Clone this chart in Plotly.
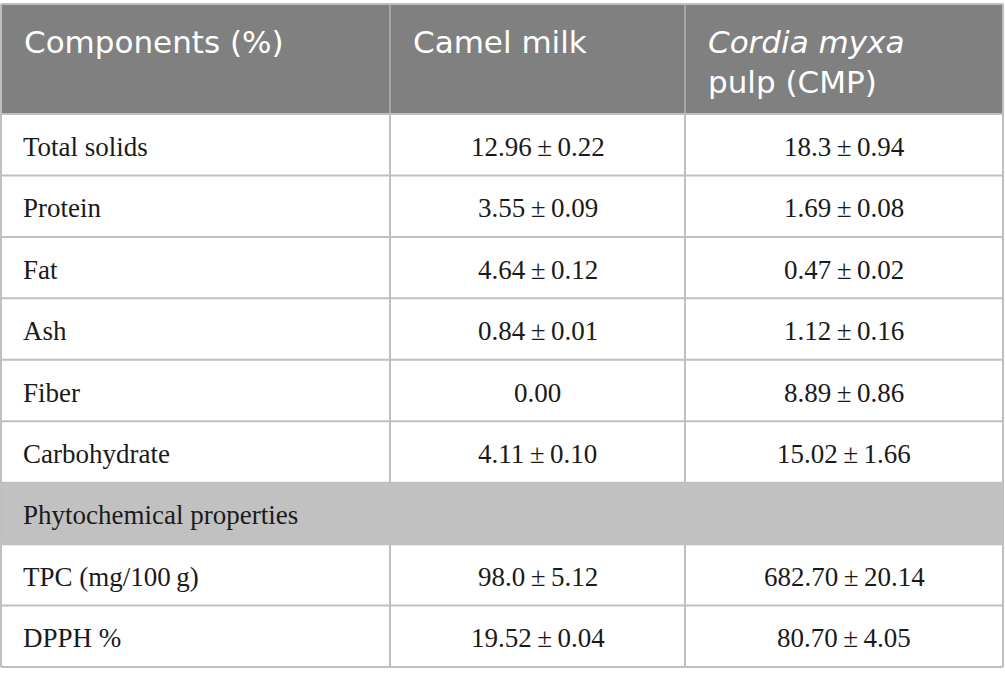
import plotly.graph_objects as go

# table content
header = ["Components (%)", "Camel milk", "<i>Cordia myxa</i><br>pulp (CMP)"]
components = ["Total solids", "Protein", "Fat", "Ash", "Fiber", "Carbohydrate"]
camel_milk = ["12.96\u2009±\u20090.22", "3.55\u2009±\u20090.09", "4.64\u2009±\u20090.12",
              "0.84\u2009±\u20090.01", "0.00", "4.11\u2009±\u20090.10"]
cmp_pulp = ["18.3\u2009±\u20090.94", "1.69\u2009±\u20090.08", "0.47\u2009±\u20090.02",
            "1.12\u2009±\u20090.16", "8.89\u2009±\u20090.86", "15.02\u2009±\u20091.66"]
section_label = "Phytochemical properties"
phyto = ["TPC (mg/100\u2009g)", "DPPH %"]
phyto_camel = ["98.0\u2009±\u20095.12", "19.52\u2009±\u20090.04"]
phyto_cmp = ["682.70\u2009±\u200920.14", "80.70\u2009±\u20094.05"]

# geometry (pixels)
col_edges = [1, 390, 685, 1003]
top, header_h, row_h = 4, 110, 61.45
line_col = "#bfbfbf"
head_fill = "#808080"
section_fill = "#c1c1c1"
body_font = dict(family="Liberation Serif", size=27, color="#1a1a1a")
head_font = dict(family="DejaVu Sans", size=31, color="white")

rows = [(c, a, b) for c, a, b in zip(components, camel_milk, cmp_pulp)]
rows.append(None)  # section row
rows += [(c, a, b) for c, a, b in zip(phyto, phyto_camel, phyto_cmp)]

shapes, annotations = [], []
x0, x1 = col_edges[0], col_edges[-1]
hb = top + header_h

# header
shapes.append(dict(type="rect", x0=x0, x1=x1, y0=top, y1=hb, fillcolor=head_fill,
                   line_width=0, layer="below"))
for i, txt in enumerate(header):
    annotations.append(dict(x=col_edges[i] + 21, y=top + 18, text=txt, showarrow=False,
                            xanchor="left", yanchor="top", align="left", font=head_font))

# body rows
for r, row in enumerate(rows):
    y0 = hb + r * row_h
    y1 = y0 + row_h
    yc = (y0 + y1) / 2
    if row is None:
        shapes.append(dict(type="rect", x0=x0, x1=x1, y0=y0, y1=y1, fillcolor=section_fill,
                           line_width=0, layer="below"))
        annotations.append(dict(x=x0 + 20, y=yc, yshift=-2, text=section_label, showarrow=False,
                                xanchor="left", yanchor="middle", font=body_font))
        continue
    annotations.append(dict(x=x0 + 20, y=yc, yshift=-2, text=row[0], showarrow=False,
                            xanchor="left", yanchor="middle", font=body_font))
    for j in (1, 2):
        annotations.append(dict(x=(col_edges[j] + col_edges[j + 1]) / 2, y=yc, yshift=-2,
                                text=row[j], showarrow=False, xanchor="center",
                                yanchor="middle", font=body_font))
    for xe in col_edges[1:-1]:
        shapes.append(dict(type="line", x0=xe, x1=xe, y0=y0, y1=y1,
                           line=dict(color=line_col, width=2)))

# header dividers
for xe in col_edges[1:-1]:
    shapes.append(dict(type="line", x0=xe, x1=xe, y0=top, y1=hb,
                       line=dict(color="#a6a6a6", width=2)))

# horizontal lines
for r in range(len(rows) + 1):
    y = hb + r * row_h
    shapes.append(dict(type="line", x0=x0, x1=x1, y0=y, y1=y,
                       line=dict(color=line_col, width=2)))
shapes.append(dict(type="line", x0=x0, x1=x1, y0=top, y1=top,
                   line=dict(color=line_col, width=2)))
# outer vertical borders
bottom = hb + len(rows) * row_h
for xe in (x0, x1):
    shapes.append(dict(type="line", x0=xe, x1=xe, y0=top, y1=bottom,
                       line=dict(color=line_col, width=2)))

fig = go.Figure()
fig.update_layout(
    width=1005, height=682,
    margin=dict(l=0, r=0, t=0, b=0),
    paper_bgcolor="white", plot_bgcolor="white",
    xaxis=dict(range=[0, 1005], visible=False, fixedrange=True),
    yaxis=dict(range=[682, 0], visible=False, fixedrange=True),
    shapes=shapes, annotations=annotations,
    showlegend=False,
)
# drop the default 8px page margin so the figure sits at the window origin
fig.write_html("out.html", config={"displayModeBar": False},
               post_script="document.body.style.margin='0';")
